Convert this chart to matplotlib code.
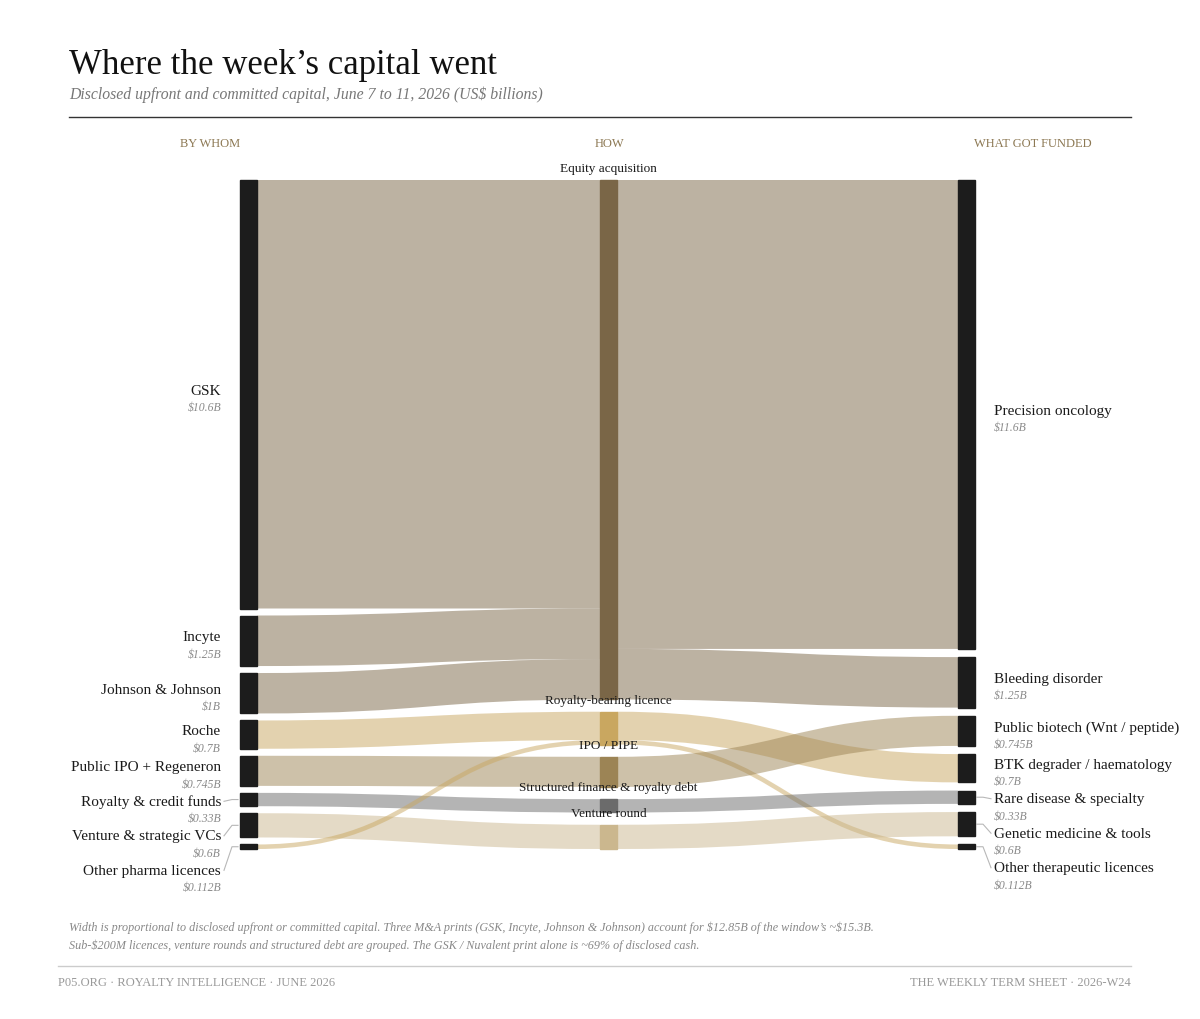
import matplotlib
matplotlib.use("Agg")
import matplotlib.pyplot as plt
from matplotlib.path import Path
from matplotlib.patches import PathPatch, Rectangle

plt.rcParams['font.family'] = ['Liberation Serif', 'DejaVu Serif']

# --- data: disclosed capital, US$ billions ---
sources = ["GSK", "Incyte", "Johnson & Johnson", "Roche", "Public IPO + Regeneron",
           "Royalty & credit funds", "Venture & strategic VCs", "Other pharma licences"]
methods = ["Equity acquisition", "Royalty-bearing licence", "IPO / PIPE",
           "Structured finance & royalty debt", "Venture round"]
targets = ["Precision oncology", "Bleeding disorder", "Public biotech (Wnt / peptide)",
           "BTK degrader / haematology", "Rare disease & specialty",
           "Genetic medicine & tools", "Other therapeutic licences"]

# who -> how
in_src = [0, 1, 2, 3, 4, 5, 6, 7]
in_dst = [0, 0, 0, 1, 2, 3, 4, 1]
in_val = [10.6, 1.25, 1.0, 0.7, 0.745, 0.33, 0.6, 0.112]

# how -> what
out_src = [0, 0, 1, 1, 2, 3, 4]
out_dst = [0, 1, 3, 6, 2, 4, 5]
out_val = [11.6, 1.25, 0.7, 0.112, 0.745, 0.33, 0.6]

method_colors = ["#7a6647", "#c9a760", "#9c8455", "#6b6b6b", "#cbb78e"]
node_dark = "#1c1c1c"
ink = "#1a1a1a"
grey = "#8a8a8a"
accent = "#8c7853"

# --- layout (pixel space) ---
W, H = 1200, 1020
col_x = [240, 600, 958]
node_w = 17
top, bottom = 181, 850
min_gap = 7


def totals(n, idx, vals):
    t = [0.0] * n
    for i, v in zip(idx, vals):
        t[i] += v
    return t


src_tot = totals(len(sources), in_src, in_val)
tgt_tot = totals(len(targets), out_dst, out_val)
mid_tot = [max(a, b) for a, b in zip(totals(len(methods), in_dst, in_val),
                                     totals(len(methods), out_src, out_val))]

k = min((bottom - top - (len(c) - 1) * min_gap) / sum(c) for c in [src_tot, mid_tot, tgt_tot])


def stack(vals):
    gap = (bottom - top - k * sum(vals)) / (len(vals) - 1)
    pos, y = [], top
    for v in vals:
        pos.append((y, y + k * v))
        y += k * v + gap
    return pos


src_pos = stack(src_tot)
mid_pos = stack(mid_tot)
tgt_pos = stack(tgt_tot)

fig = plt.figure(figsize=(12, 10.2), dpi=100)
ax = fig.add_axes([0, 0, 1, 1])
ax.set_xlim(0, W)
ax.set_ylim(H, 0)
ax.axis("off")


def ribbon(x0, x1, y0, y1, w, color):
    xm = (x0 + x1) / 2
    path = Path([(x0, y0), (xm, y0), (xm, y1), (x1, y1)],
                [Path.MOVETO, Path.CURVE4, Path.CURVE4, Path.CURVE4])
    ax.add_patch(PathPatch(path, fill=False, edgecolor=color, alpha=0.5,
                           lw=w * 72 / 100, capstyle="butt", zorder=1))


def draw_links(src, dst, vals, pos_a, pos_b, xa, xb, color_of):
    out_off = [p[0] for p in pos_a]
    in_off = [p[0] for p in pos_b]
    y_start, y_end = {}, {}
    for j in sorted(range(len(vals)), key=lambda j: (src[j], dst[j])):
        y_start[j] = out_off[src[j]]
        out_off[src[j]] += k * vals[j]
    for j in sorted(range(len(vals)), key=lambda j: (dst[j], src[j])):
        y_end[j] = in_off[dst[j]]
        in_off[dst[j]] += k * vals[j]
    for j in range(len(vals)):
        w = k * vals[j]
        ribbon(xa, xb, y_start[j] + w / 2, y_end[j] + w / 2, w, color_of(j))


draw_links(in_src, in_dst, in_val, src_pos, mid_pos, col_x[0] + node_w, col_x[1],
           lambda j: method_colors[in_dst[j]])
draw_links(out_src, out_dst, out_val, mid_pos, tgt_pos, col_x[1] + node_w, col_x[2],
           lambda j: method_colors[out_src[j]])

# nodes
for y0, y1 in src_pos:
    ax.add_patch(Rectangle((col_x[0], y0), node_w, y1 - y0, color=node_dark, zorder=3))
for (y0, y1), c in zip(mid_pos, method_colors):
    ax.add_patch(Rectangle((col_x[1], y0), node_w, y1 - y0, color=c, zorder=3))
for y0, y1 in tgt_pos:
    ax.add_patch(Rectangle((col_x[2], y0), node_w, y1 - y0, color=node_dark, zorder=3))


def fmt(v):
    return "$" + f"{v:g}" + "B"


def side_labels(names, vals, pos, edge, lx, ha, sign):
    prev = -1e9
    for name, v, (y0, y1) in zip(names, vals, pos):
        c = (y0 + y1) / 2
        y = max(c - 4, prev + 34.5)
        prev = y
        ax.text(lx, y, name, ha=ha, va="center", fontsize=11, color=ink,
                parse_math=False, zorder=5)
        ax.text(lx, y + 17, fmt(v), ha=ha, va="center", fontsize=8.5, style="italic",
                color=grey, parse_math=False, zorder=5)
        if y - (c - 4) > 1:
            ax.plot([edge + sign * 2, edge + sign * 8, lx - sign * 3], [c, c, y],
                    color="#b8b8b8", lw=0.8, zorder=2)


side_labels(sources, src_tot, src_pos, col_x[0], 221, "right", -1)
side_labels(targets, tgt_tot, tgt_pos, col_x[2] + node_w, 994, "left", 1)

for name, (y0, y1) in zip(methods, mid_pos):
    ax.text(col_x[1] + node_w / 2, y0 - 12, name, ha="center", va="center",
            fontsize=9.5, color=ink, zorder=6)

# header
ax.text(69, 74, "Where the week\u2019s capital went", fontsize=25, color="#111111", va="baseline")
ax.text(69, 99, "Disclosed upfront and committed capital, June 7 to 11, 2026 (US$ billions)",
        fontsize=11.3, style="italic", color="#777777", va="baseline", parse_math=False)
ax.plot([69, 1131], [118, 118], color="#333333", lw=1)
for x, t in zip([210, 609, 1033], ["BY WHOM", "HOW", "WHAT GOT FUNDED"]):
    ax.text(x, 147, t, ha="center", va="baseline", fontsize=9, color=accent)

# notes + footer
ax.text(69, 931, "Width is proportional to disclosed upfront or committed capital. Three M&A prints "
        "(GSK, Incyte, Johnson & Johnson) account for $12.85B of the window\u2019s ~$15.3B.",
        fontsize=8.7, style="italic", color="#888888", va="baseline", parse_math=False)
ax.text(69, 949, "Sub-$200M licences, venture rounds and structured debt are grouped. "
        "The GSK / Nuvalent print alone is ~69% of disclosed cash.",
        fontsize=8.7, style="italic", color="#888888", va="baseline", parse_math=False)
ax.plot([58, 1131], [967, 967], color="#cccccc", lw=1)
ax.text(58, 986, "P05.ORG \u00b7 ROYALTY INTELLIGENCE \u00b7 JUNE 2026", fontsize=9,
        color="#999999", va="baseline")
ax.text(1131, 986, "THE WEEKLY TERM SHEET \u00b7 2026-W24", fontsize=9, ha="right",
        color="#999999", va="baseline")

fig.savefig("out.png", dpi=100, facecolor="white")
